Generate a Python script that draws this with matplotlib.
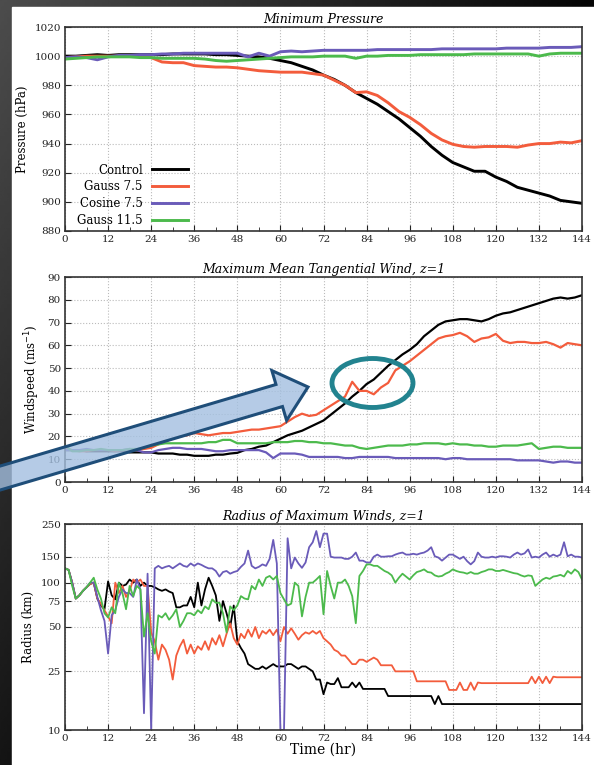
import numpy as np
import matplotlib
matplotlib.use("Agg")
import matplotlib.pyplot as plt
from matplotlib.patches import Rectangle, FancyArrow, Ellipse
from matplotlib.ticker import FixedLocator, FixedFormatter, NullLocator

plt.rcParams['font.family'] = ['DejaVu Serif']

labels = ["Control", "Gauss 7.5", "Cosine 7.5", "Gauss 11.5"]
colors = ["black", "#f35c3c", "#6a5bb9", "#4cba4c"]

# ---- minimum pressure, every 3 hr ----
p_hours = np.arange(0, 145, 3)
p_control = [1000, 1000, 1000.5, 1001, 1000.5, 1001, 1001, 1001, 1001, 1001,
             1001.5, 1001.5, 1001.5, 1001.5, 1001, 1001, 1000.5, 1000, 999.5, 998.5,
             997, 995.5, 993, 990.5, 987, 984, 980, 975, 971, 967,
             962, 957, 951, 945, 938, 932, 927, 924, 921, 921,
             917, 914, 910, 908, 906, 904, 901, 900, 899]
p_gauss75 = [999, 999.5, 1000, 1000, 1000, 1000, 1000, 1000, 999, 996,
             995.5, 995.5, 993.5, 993, 992.5, 992.5, 992, 991, 990, 989.5,
             989, 989, 989, 988, 987, 983.5, 980, 975, 975.5, 973,
             968, 962, 958, 953, 947, 942.5, 939.5, 938, 937.5, 938,
             938, 938, 937.5, 939, 940, 940, 941, 940.5, 942]
p_cosine75 = [999, 999.5, 999, 997.5, 999.5, 1000.5, 1000.5, 1001, 1001, 1001.5,
              1001.5, 1002, 1002, 1002, 1002, 1002, 1002, 999.5, 1002, 1000,
              1003, 1003.5, 1003, 1003.5, 1004, 1004, 1004, 1004, 1004, 1004.5,
              1004.5, 1004.5, 1004.5, 1004.5, 1004.5, 1005, 1005, 1005, 1005, 1005,
              1005, 1005.5, 1005.5, 1005.5, 1005.5, 1006, 1006, 1006, 1006.5]
p_gauss115 = [998, 998.5, 999, 999.5, 999.5, 999.5, 999.5, 999, 999, 998.5,
              998.5, 998.5, 998.5, 998, 997, 996.5, 997, 997.5, 998, 998.5,
              999, 999.5, 999.5, 999.5, 1000, 1000, 1000, 998.5, 1000, 1000,
              1000.5, 1000.5, 1000.5, 1001, 1001, 1001, 1001, 1001, 1001.5, 1001.5,
              1001.5, 1001.5, 1001.5, 1001.5, 1000, 1001.5, 1002, 1002, 1002]

# ---- max mean tangential wind, every 2 hr ----
w_hours = np.arange(0, 145, 2)
w_control = [14, 14, 14, 13.5, 13.5, 13.5, 13.5, 13.5, 13.5, 13, 13, 13,
             13, 12.5, 12.5, 12.5, 12, 12, 11.5, 11.5, 11.5, 12, 12, 12.5,
             12.8, 14, 14.5, 15.5, 16, 17.5, 19, 20.5, 21.5, 22.5, 24, 25.5,
             27, 29.5, 32, 34.5, 37.5, 40, 43, 45, 48, 51, 53.5, 56,
             58, 60.5, 64, 66.5, 69, 70.5, 71, 71.5, 71.5, 71, 70.5, 71.5,
             73, 74, 74.5, 75.5, 76.5, 77.5, 78.5, 79.5, 80.5, 81, 80.5, 81,
             82]
w_gauss75 = [15, 14, 13.5, 13.5, 14, 14, 14, 13.5, 14, 14, 14, 14.5,
             15, 16.5, 18, 19, 20, 20.5, 21.5, 21, 20.5, 21, 21.5, 21.5,
             22, 22.5, 23, 23, 23.5, 24, 24.5, 26.5, 28.5, 30, 29, 29.5,
             31.5, 33.5, 35.5, 37.5, 44, 40, 40, 38.5, 41.5, 43.5, 49, 51,
             53, 55.5, 58, 60.5, 63, 64, 64.5, 65.5, 64, 61.5, 63, 63.5,
             65, 62, 61, 61.5, 61.5, 61, 61, 61.5, 60.5, 59, 61, 60.5,
             60]
w_cosine75 = [14, 14, 14, 14.5, 14, 14, 14, 14, 14, 14.5, 14, 13,
              13, 14, 14.5, 15, 15, 14.5, 14.5, 14.5, 14, 13.5, 13.5, 14,
              14, 14, 14, 14, 13, 10.5, 12.5, 12.5, 12.5, 12, 11, 11,
              11, 11, 11, 10.5, 10.5, 11, 11, 11, 11, 11, 10.5, 10.5,
              10.5, 10.5, 10.5, 10.5, 10.5, 10, 10.5, 10.5, 10, 10, 10, 10,
              10, 10, 10, 9.5, 9.5, 9.5, 9.5, 9, 8.5, 9, 9, 8.5,
              8.5]
w_gauss115 = [16, 13.5, 13.5, 14, 14, 14.5, 14, 14, 14, 14.5, 14.5, 15,
              16, 16.5, 17, 17, 17, 17, 17, 17, 17.5, 17.5, 18.5, 18.5,
              17, 17, 17, 17, 17, 17.5, 17.5, 17.5, 18, 18, 17.5, 17.5,
              17, 17, 16.5, 16, 16, 15, 14.5, 15, 15.5, 16, 16, 16,
              16.5, 16.5, 17, 17, 17, 16.5, 17, 16.5, 16.5, 16, 16, 15.5,
              15.5, 16, 16, 16, 16.5, 17, 14.5, 15, 15.5, 15.5, 15, 15,
              15]

# ---- radius of maximum winds, every hour ----
r_hours = np.arange(0, 145, 1)
r_control = [125, 122, 100, 78, 82, 88, 93, 98, 100, 78, 70, 66,
             102, 82, 77, 100, 95, 97, 105, 100, 105, 95, 100, 95,
             95, 93, 90, 88, 90, 87, 85, 68, 68, 70, 70, 80,
             68, 100, 70, 90, 108, 95, 82, 55, 75, 62, 50, 70,
             40, 36, 33, 28, 27, 26, 26, 27, 26, 27, 28, 27,
             27, 27, 28, 28, 27, 26, 27, 27, 26, 25, 22, 22,
             17.5, 21, 20.5, 20.5, 22.5, 19.5, 19.5, 19.5, 21, 19.5, 21, 19,
             19, 19, 19, 19, 19, 19, 17, 17, 17, 17, 17, 17,
             17, 17, 17, 17, 17, 17, 17, 15, 17, 15, 15, 15,
             15, 15, 15, 15, 15, 15, 15, 15, 15, 15, 15, 15,
             15, 15, 15, 15, 15, 15, 15, 15, 15, 15, 15, 15,
             15, 15, 15, 15, 15, 15, 15, 15, 15, 15, 15, 15,
             15]
r_gauss75 = [125, 122, 100, 78, 82, 88, 93, 98, 100, 78, 72, 65,
             59, 53, 100, 85, 95, 80, 88, 105, 100, 105, 95, 95,
             46, 40, 30, 38, 35, 30, 22, 32, 37, 41, 33, 38,
             33, 37, 35, 40, 35, 42, 38, 44, 37, 45, 53, 42,
             38, 45, 42, 48, 43, 50, 42, 47, 45, 48, 44, 48,
             40, 50, 45, 49, 45, 41, 44, 46, 45, 47, 45, 47,
             42, 40, 38, 35, 34, 32, 32, 30, 28, 28, 30, 30,
             29, 30, 31, 30, 27.5, 27.5, 27.5, 27.5, 25, 25, 25, 25,
             25, 25, 21.4, 21.4, 21.4, 21.4, 21.4, 21.4, 21.4, 21.4, 21.4, 18.7,
             18.7, 18.7, 21, 18.7, 18.7, 21, 18.7, 21, 20.8, 20.8, 20.8, 20.8,
             20.8, 20.8, 20.8, 20.8, 20.8, 20.8, 20.8, 20.8, 20.8, 20.8, 23, 20.8,
             23, 20.8, 23, 20.8, 23, 22.8, 22.8, 22.8, 22.8, 22.8, 22.8, 22.8,
             22.8]
r_cosine75 = [125, 122, 100, 78, 82, 88, 93, 100, 100, 80, 65, 55,
              33, 60, 65, 80, 90, 85, 85, 80, 105, 90, 13, 115,
              10, 125, 130, 125, 128, 130, 125, 130, 135, 130, 128, 135,
              130, 135, 132, 128, 125, 125, 120, 110, 118, 120, 115, 118,
              120, 128, 135, 165, 130, 125, 128, 133, 130, 145, 195, 135,
              10, 10, 200, 125, 148, 135, 126, 137, 174, 188, 224, 174,
              215, 215, 150, 148, 148, 148, 145, 145, 150, 160, 141, 141,
              137, 137, 150, 155, 150, 150, 151, 151, 155, 158, 160, 155,
              155, 157, 155, 158, 160, 165, 174, 151, 148, 141, 148, 155,
              155, 150, 145, 150, 140, 133, 140, 160, 150, 148, 148, 150,
              148, 151, 151, 150, 148, 155, 160, 155, 158, 168, 148, 150,
              148, 155, 160, 150, 155, 151, 155, 188, 151, 155, 150, 150,
              148]
r_gauss115 = [125, 122, 95, 78, 82, 88, 93, 100, 108, 90, 78, 62,
              58, 68, 62, 100, 85, 66, 95, 81, 95, 90, 43, 62,
              40, 33, 60, 58, 62, 56, 60, 66, 50, 55, 62, 62,
              60, 65, 62, 69, 66, 77, 73, 73, 62, 46, 69, 65,
              70, 81, 78, 77, 95, 90, 105, 95, 108, 111, 105, 111,
              85, 77, 70, 72, 100, 95, 59, 80, 100, 100, 105, 111,
              61, 120, 95, 78, 100, 100, 105, 95, 81, 53, 111, 120,
              133, 133, 130, 130, 125, 120, 117, 112, 100, 108, 115, 110,
              105, 112, 118, 120, 123, 118, 117, 112, 110, 111, 115, 118,
              123, 120, 118, 117, 115, 118, 115, 115, 118, 120, 123, 123,
              120, 120, 122, 120, 118, 116, 115, 112, 110, 112, 111, 95,
              100, 105, 108, 106, 110, 111, 113, 110, 120, 115, 123, 118,
              105]

W, H = 594, 765
fig = plt.figure(figsize=(W / 100, H / 100), dpi=100)

# dark slide background with white figure area
bg = fig.add_axes([0, 0, 1, 1], zorder=-5)
yy, xx = np.mgrid[0:1:200j, 0:1:200j]
shade = np.clip(0.30 - 0.22 * yy - 0.28 * xx, 0.02, 1)
bg.imshow(shade, extent=[0, W, H, 0], cmap="gray", vmin=0, vmax=1, aspect="auto")
bg.add_patch(Rectangle((12, 7), W - 12, H - 7, color="white"))
bg.set_xlim(0, W)
bg.set_ylim(H, 0)
bg.axis("off")


def px_axes(top, bottom, left=65, right=582):
    return fig.add_axes([left / W, 1 - bottom / H, (right - left) / W, (bottom - top) / H])


def style(ax, title):
    ax.set_xlim(0, 144)
    ax.set_xticks(np.arange(0, 145, 12))
    ax.set_xticks(np.arange(0, 145, 6), minor=True)
    ax.tick_params(which="both", direction="in", top=False, right=False,
                   labelsize=7.5, colors="#222222", pad=3)
    ax.tick_params(which="major", length=4)
    ax.tick_params(which="minor", length=3)
    ax.grid(True, which="major", linestyle=":", color="#bbbbbb", linewidth=0.8)
    for s in ax.spines.values():
        s.set_color("#333333")
        s.set_linewidth(1.2)
    ax.set_title(title, fontsize=9, style="italic", pad=3)


# top: minimum pressure
ax1 = px_axes(27, 231)
for vals, lab, c in zip([p_control, p_gauss75, p_cosine75, p_gauss115], labels, colors):
    ax1.plot(p_hours, vals, color=c, lw=2.1, label=lab)
style(ax1, "Minimum Pressure")
ax1.set_ylim(880, 1020)
ax1.set_yticks(np.arange(880, 1021, 20))
ax1.set_ylabel("Pressure (hPa)", fontsize=8.5)
ax1.legend(loc="lower right", bbox_to_anchor=(0.245, 0.0), frameon=False,
           markerfirst=False, fontsize=8.5, handlelength=3, handletextpad=0.8,
           labelspacing=0.32, borderaxespad=0.2, borderpad=0.15)

# middle: max mean tangential wind
ax2 = px_axes(277, 482)
for vals, lab, c in zip([w_control, w_gauss75, w_cosine75, w_gauss115], labels, colors):
    ax2.plot(w_hours, vals, color=c, lw=1.6)
style(ax2, "Maximum Mean Tangential Wind, z=1")
ax2.set_ylim(0, 90)
ax2.set_yticks(np.arange(0, 91, 10))
ax2.set_ylabel("Windspeed (ms$^{-1}$)", fontsize=8.5)

# bottom: radius of maximum winds
ax3 = px_axes(524, 730)
for vals, lab, c in zip([r_control, r_gauss75, r_cosine75, r_gauss115], labels, colors):
    ax3.plot(r_hours, vals, color=c, lw=1.3)
style(ax3, "Radius of Maximum Winds, z=1")
ax3.set_yscale("log")
ax3.set_ylim(10, 250)
rt = [10, 25, 50, 75, 100, 150, 250]
ax3.yaxis.set_major_locator(FixedLocator(rt))
ax3.yaxis.set_major_formatter(FixedFormatter([str(v) for v in rt]))
ax3.yaxis.set_minor_locator(NullLocator())
ax3.set_ylabel("Radius (km)", fontsize=8.5)
ax3.set_xlabel("Time (hr)", fontsize=10, labelpad=0)

# slide annotations: arrow and ellipse
ov = fig.add_axes([0, 0, 1, 1], zorder=10)
ov.set_xlim(0, W)
ov.set_ylim(H, 0)
ov.axis("off")
ov.patch.set_alpha(0)
ov.add_patch(FancyArrow(-20, 484, 328, -97, width=23, head_width=52, head_length=30,
                        length_includes_head=True, facecolor=(0.64, 0.75, 0.88, 0.8),
                        edgecolor="#1f4e79", linewidth=2.2))
ov.add_patch(Ellipse((372.5, 383), 81, 49, fill=False, edgecolor="#22838f", linewidth=3.5))

fig.savefig("out.png", dpi=100)
